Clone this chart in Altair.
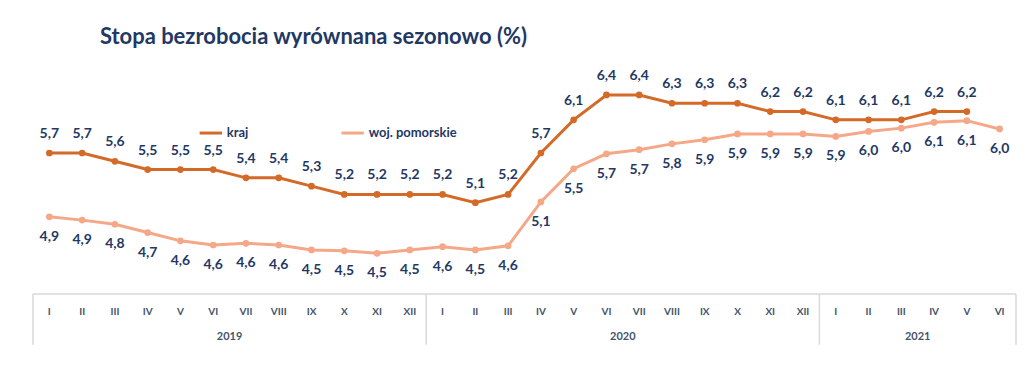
import altair as alt
import pandas as pd

months = ["I", "II", "III", "IV", "V", "VI", "VII", "VIII", "IX", "X", "XI", "XII"]
years = ["2019"] * 12 + ["2020"] * 12 + ["2021"] * 6
month_labels = months + months + months[:6]

kraj = [5.7, 5.7, 5.6, 5.5, 5.5, 5.5, 5.4, 5.4, 5.3, 5.2, 5.2, 5.2,
        5.2, 5.1, 5.2, 5.7, 6.1, 6.4, 6.4, 6.3, 6.3, 6.3, 6.2, 6.2,
        6.1, 6.1, 6.1, 6.2, 6.2]
pomorskie = [4.93, 4.89, 4.84, 4.74, 4.64, 4.59, 4.61, 4.59, 4.53, 4.52, 4.49, 4.53,
             4.57, 4.53, 4.58, 5.11, 5.51, 5.69, 5.74, 5.81, 5.86, 5.93, 5.93, 5.93,
             5.90, 5.96, 6.00, 6.07, 6.09, 5.99]

series_names = ["kraj", "woj. pomorskie"]
series_colors = ["#D46A28", "#F4A888"]


def frame(vals, name):
    return pd.DataFrame({"i": list(range(len(vals))), "v": vals, "s": name,
                         "lab": [f"{v:.1f}".replace(".", ",") for v in vals]})


df_k = frame(kraj, series_names[0])
df_p = frame(pomorskie, series_names[1])
df = pd.concat([df_k, df_p], ignore_index=True)

axis_df = pd.DataFrame({"i": list(range(len(month_labels))), "m": month_labels})
yr_s = pd.Series(years)
yr_names = sorted(set(years))
year_df = pd.DataFrame({
    "yr": yr_names,
    "mid": [float(yr_s[yr_s == y].index.to_series().mean()) for y in yr_names],
    "lo": [float(yr_s[yr_s == y].index.min()) - 0.5 for y in yr_names],
    "hi": [float(yr_s[yr_s == y].index.max()) + 0.5 for y in yr_names],
})
sep_df = pd.DataFrame({"xb": sorted(set(year_df["lo"].tolist() + year_df["hi"].tolist()))})

W, H = 984, 224
NAVY = "#1F3864"
FONT = "Lato"

xs = alt.Scale(domain=[-0.5, len(month_labels) - 0.5], nice=False, zero=False)
ys = alt.Scale(domain=[4.0, 6.7], nice=False, zero=False)
cs = alt.Scale(domain=series_names, range=series_colors)


def X(field):
    return alt.X(field, scale=xs, axis=None)


def Y(field):
    return alt.Y(field, scale=ys, axis=None)


leg = alt.Legend(orient="none", legendX=165, legendY=50, direction="horizontal",
                 symbolType="stroke", symbolSize=500, symbolStrokeWidth=3,
                 labelFont=FONT, labelFontSize=13, labelFontWeight="bold",
                 labelColor=NAVY, columnPadding=86, labelOffset=3, title=None)

lines = alt.Chart(df).mark_line(strokeWidth=3).encode(
    x=X("i:Q"), y=Y("v:Q"),
    color=alt.Color("s:N", scale=cs, legend=leg),
)
points = alt.Chart(df).mark_circle(size=45, opacity=1).encode(
    x=X("i:Q"), y=Y("v:Q"),
    color=alt.Color("s:N", scale=cs, legend=leg),
)

lab_common = dict(font=FONT, fontSize=14, fontWeight="bold", color=NAVY)
labels_k = alt.Chart(df_k).mark_text(dy=-19, **lab_common).encode(
    x=X("i:Q"), y=Y("v:Q"), text="lab:N")
labels_p = alt.Chart(df_p).mark_text(dy=20, **lab_common).encode(
    x=X("i:Q"), y=Y("v:Q"), text="lab:N")

month_text = alt.Chart(axis_df).mark_text(font=FONT, fontSize=10, fontWeight="bold", color="#44546A").encode(
    x=X("i:Q"), y=alt.value(H + 18), text="m:N")
year_text = alt.Chart(year_df).mark_text(font=FONT, fontSize=11, fontWeight="bold", color="#44546A").encode(
    x=X("mid:Q"), y=alt.value(H + 43), text="yr:N")
seps = alt.Chart(sep_df).mark_rule(color="#D9D9D9", strokeWidth=1.5).encode(
    x=X("xb:Q"), y=alt.value(H), y2=alt.value(H + 51))
topline = alt.Chart(year_df).mark_rule(color="#D9D9D9", strokeWidth=1.5).encode(
    x=X("lo:Q"), x2=alt.X2("hi"), y=alt.value(H))

chart = alt.layer(topline, seps, month_text, year_text, lines, points, labels_k, labels_p).properties(
    width=W, height=H,
    autosize=alt.AutoSizeParams(type="none"),
    padding={"left": 25, "top": 62, "right": 5, "bottom": 60},
    title=alt.TitleParams("Stopa bezrobocia wyrównana sezonowo (%)", anchor="start", frame="group",
                          dx=67, offset=20, font=FONT, fontSize=22, fontWeight="bold", color=NAVY),
).configure_view(strokeWidth=0)

chart.save("out.html", embed_options={"renderer": "svg", "actions": False})
